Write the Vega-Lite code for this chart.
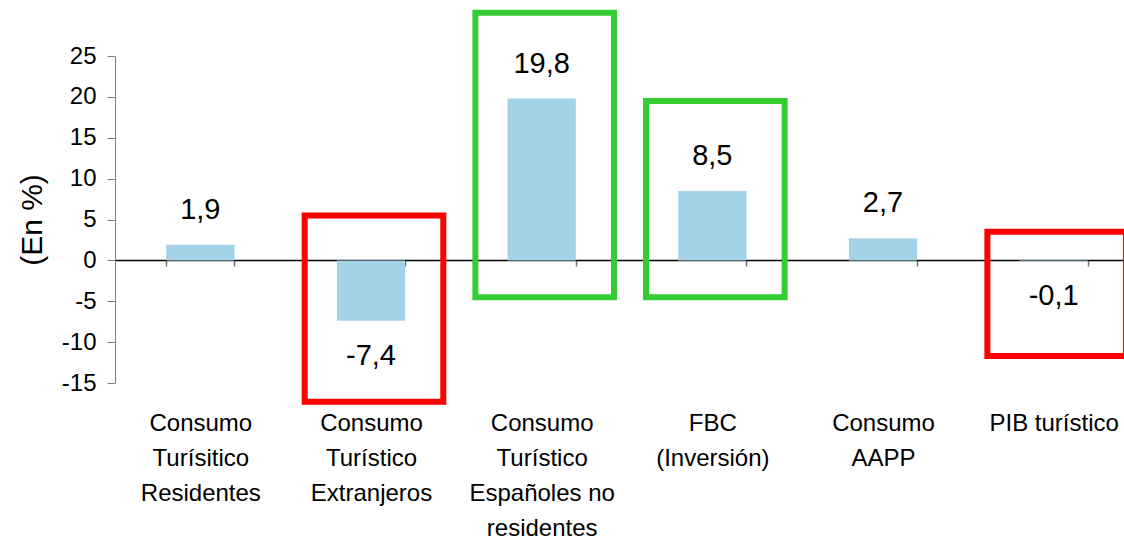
{
  "$schema": "https://vega.github.io/schema/vega-lite/v6.json",
  "width": 1024,
  "height": 327,
  "autosize": {"type": "none"},
  "padding": {"left": 115, "top": 56, "right": 0, "bottom": 156},
  "background": "white",
  "config": {"view": {"stroke": null}, "font": "Liberation Sans"},
  "datasets": {
    "bars": [
      {"categoria": "Consumo|Turísitico|Residentes", "valor": 1.9, "etiqueta": "1,9"},
      {"categoria": "Consumo|Turístico|Extranjeros", "valor": -7.4, "etiqueta": "-7,4"},
      {"categoria": "Consumo|Turístico|Españoles no|residentes", "valor": 19.8, "etiqueta": "19,8"},
      {"categoria": "FBC|(Inversión)", "valor": 8.5, "etiqueta": "8,5"},
      {"categoria": "Consumo|AAPP", "valor": 2.7, "etiqueta": "2,7"},
      {"categoria": "PIB turístico", "valor": -0.1, "etiqueta": "-0,1"}
    ],
    "boxes": [
      {"categoria": "Consumo|Turístico|Extranjeros", "alto": 5.5, "bajo": -17.3, "marco": "negativo"},
      {"categoria": "Consumo|Turístico|Españoles no|residentes", "alto": 30.3, "bajo": -4.5, "marco": "positivo"},
      {"categoria": "FBC|(Inversión)", "alto": 19.5, "bajo": -4.5, "marco": "positivo"},
      {"categoria": "PIB turístico", "alto": 3.5, "bajo": -11.7, "marco": "negativo"}
    ]
  },
  "layer": [
    {
      "data": {"name": "bars"},
      "mark": {"type": "bar", "color": "#A4D2E6"},
      "encoding": {
        "x": {
          "field": "categoria",
          "type": "nominal",
          "sort": null,
          "scale": {
            "domain": ["Consumo|Turísitico|Residentes", "Consumo|Turístico|Extranjeros", "Consumo|Turístico|Españoles no|residentes", "FBC|(Inversión)", "Consumo|AAPP", "PIB turístico"],
            "paddingInner": 0.6,
            "paddingOuter": 0.3
          },
          "axis": {
            "orient": "bottom",
            "offset": -123,
            "title": null,
            "domain": true,
            "domainColor": "black",
            "domainWidth": 1.5,
            "ticks": true,
            "tickBand": "extent",
            "tickSize": 6,
            "tickColor": "#707070",
            "tickWidth": 1.5,
            "labelAngle": 0,
            "labelExpr": "isValid(datum.value) ? split(datum.value, '|') : ''",
            "labelFontSize": 24,
            "labelLineHeight": 35,
            "labelBaseline": "top",
            "labelPadding": 145,
            "labelColor": "black",
            "labelLimit": 300
          }
        },
        "y": {
          "field": "valor",
          "type": "quantitative",
          "scale": {"domain": [-15, 25], "nice": false, "zero": false},
          "axis": {
            "values": [-15, -10, -5, 0, 5, 10, 15, 20, 25],
            "labelExpr": "toString(datum.value)",
            "grid": false,
            "domainColor": "#808080",
            "tickColor": "#808080",
            "tickSize": 8,
            "labelFontSize": 24,
            "labelColor": "black",
            "labelPadding": 11,
            "title": "(En %)",
            "titleFontSize": 30,
            "titleFontWeight": "normal",
            "titleColor": "black",
            "titlePadding": 14
          }
        }
      }
    },
    {
      "data": {"name": "bars"},
      "transform": [{"filter": "datum.valor >= 0"}],
      "mark": {"type": "text", "dy": -35, "fontSize": 29, "color": "black", "baseline": "middle"},
      "encoding": {
        "x": {"field": "categoria", "type": "nominal", "sort": null},
        "y": {"field": "valor", "type": "quantitative"},
        "text": {"field": "etiqueta"}
      }
    },
    {
      "data": {"name": "bars"},
      "transform": [{"filter": "datum.valor < 0"}],
      "mark": {"type": "text", "dy": 35, "fontSize": 29, "color": "black", "baseline": "middle"},
      "encoding": {
        "x": {"field": "categoria", "type": "nominal", "sort": null},
        "y": {"field": "valor", "type": "quantitative"},
        "text": {"field": "etiqueta"}
      }
    },
    {
      "data": {"name": "boxes"},
      "mark": {"type": "bar", "fillOpacity": 0, "strokeWidth": 6, "width": {"band": 2.03}, "xOffset": 3},
      "encoding": {
        "x": {"field": "categoria", "type": "nominal", "sort": null},
        "y": {"field": "alto", "type": "quantitative"},
        "y2": {"field": "bajo"},
        "stroke": {
          "field": "marco",
          "type": "nominal",
          "scale": {"domain": ["negativo", "positivo"], "range": ["#FF0000", "#33CC33"]},
          "legend": null
        }
      }
    }
  ]
}
